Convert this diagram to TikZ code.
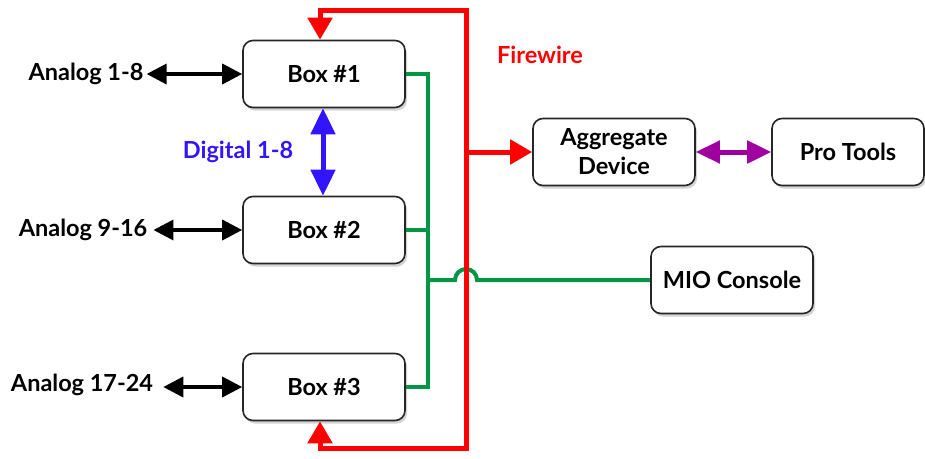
\documentclass[tikz,border=0pt]{standalone}
\usepackage{fontspec}
\setmainfont{Lato}
\usetikzlibrary{arrows.meta,shadows}
\definecolor{fwred}{RGB}{255,0,0}
\definecolor{mgreen}{RGB}{0,150,70}
\definecolor{dblue}{RGB}{51,20,255}
\definecolor{ppurple}{RGB}{160,0,160}
\begin{document}
\begin{tikzpicture}[x=1pt,y=-1pt,
  box/.style={draw=black!85,line width=1.6pt,rounded corners=10pt,fill=white,
    minimum width=162pt,minimum height=67pt,inner sep=0pt,align=center,
    font=\fontsize{23.5}{24}\selectfont\bfseries,
    drop shadow={shadow xshift=2pt,shadow yshift=-3pt,opacity=0.35}},
  lbl/.style={font=\fontsize{23.5}{24}\selectfont\bfseries,inner sep=0pt},
  blk/.style={line width=3.5pt,{Triangle[length=20pt,width=20pt]}-{Triangle[length=20pt,width=20pt]}},
  rline/.style={draw=fwred,line width=5pt},
  rarrow/.style={-{Triangle[length=22pt,width=24pt]}},
  gline/.style={draw=mgreen,line width=4pt}]
\useasboundingbox (0,0) rectangle (925,458);
% boxes
\node[box] (b1) at (324,74) {Box \#1};
\node[box] (b2) at (324,230) {Box \#2};
\node[box] (b3) at (324,387) {Box \#3};
\node[box,font=\fontsize{23.5}{29}\selectfont\bfseries] (agg) at (614,152) {Aggregate\\Device};
\node[box,minimum width=152pt] (pt) at (848,152) {Pro Tools};
\node[box] (mio) at (732,280) {MIO Console};
% labels
\node[lbl] (a1) at (86,74) {Analog 1-8};
\node[lbl] (a2) at (83,230) {Analog 9-16};
\node[lbl] (a3) at (82,385) {Analog 17-24};
\node[lbl,text=dblue] (dig) at (238,152) {Digital 1-8};
\node[lbl,text=fwred] (fw) at (540,55) {Firewire};
% black arrows
\draw[blk] ([xshift=3pt]a1.east) -- (b1.west);
\draw[blk] ([xshift=6pt]a2.east) -- (b2.west);
\draw[blk] ([xshift=10pt]a3.east |- b3.west) -- (b3.west);
% digital
\draw[draw=dblue,line width=5pt,{Triangle[length=26pt,width=24pt]}-{Triangle[length=26pt,width=24pt]}] ([xshift=-1pt]b1.south) -- ([xshift=-1pt]b2.north);
% purple
\draw[draw=ppurple,line width=5pt,{Triangle[length=24pt,width=22pt]}-{Triangle[length=24pt,width=22pt]}] (agg.east) -- (pt.west);
% green
\coordinate (gx) at (428,280);
\draw[gline,line join=miter] (b1.east) -- (b1.east -| gx) -- (b3.east -| gx) -- (b3.east);
\draw[gline] (b2.east) -- (b2.east -| gx);
\draw[gline] (gx) -- (455,280) arc[start angle=180,end angle=0,radius=11pt] -- (mio.west);
% red
\coordinate (rt) at (466,10);
\coordinate (rb) at (466,448);
\draw[rline,line join=miter,{Triangle[length=22pt,width=24pt]}-{Triangle[length=22pt,width=24pt]}] ([xshift=-4pt]b1.north) |- (rt) -- (rb) -| ([xshift=-4pt]b3.south);
\draw[rline,rarrow] (466,152) -- (agg.west);
\end{tikzpicture}
\end{document}
